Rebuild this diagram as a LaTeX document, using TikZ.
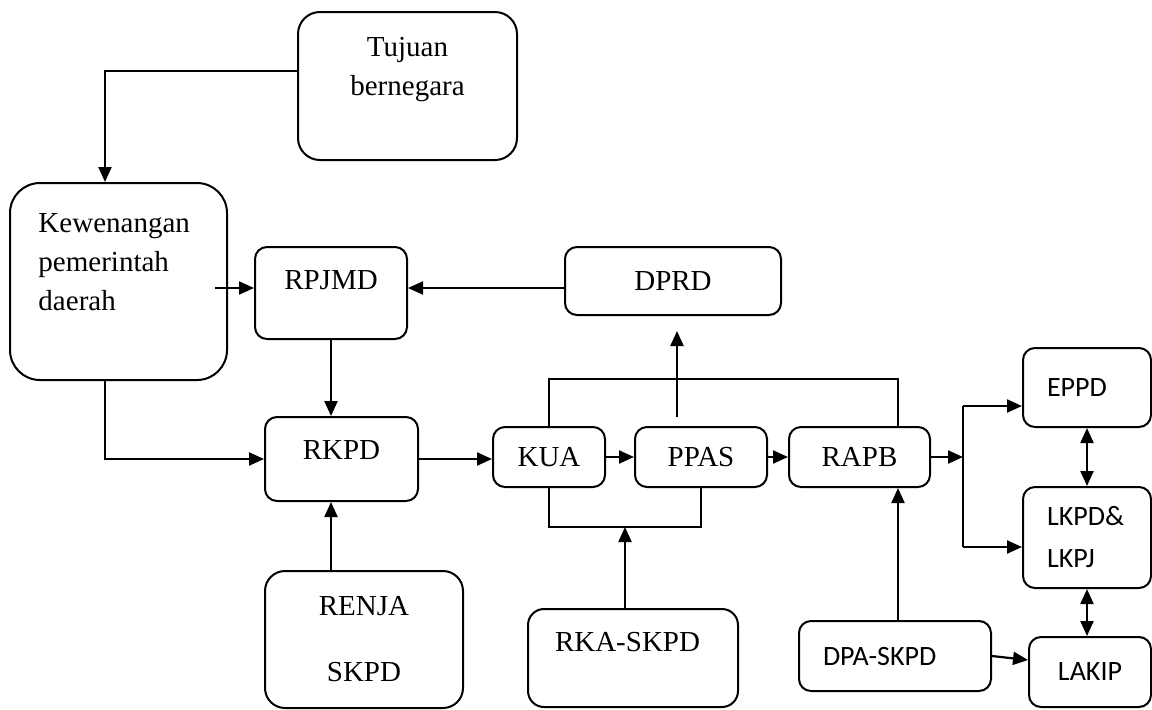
\documentclass[tikz,border=0pt]{standalone}
\usepackage{fontspec}
\setmainfont{Liberation Serif}
\newfontfamily\calfont{Carlito}
\usetikzlibrary{arrows.meta}

\begin{document}
\begin{tikzpicture}[x=0.5pt,y=-0.5pt,
    arr/.style={-{Triangle[length=7.5pt,width=6.5pt]},line width=1.1pt},
    dbl/.style={{Triangle[length=7.5pt,width=6.5pt]}-{Triangle[length=7.5pt,width=6.5pt]},line width=1.1pt}]

        \useasboundingbox (0,0) rectangle (1152,709);

        \begin{scope}[every node/.style={draw,line width=1pt,rounded corners=6pt,align=center,inner sep=0pt,
              font=\fontsize{14.5pt}{19.5pt}\selectfont}]
          \node[minimum width=109.5pt,minimum height=74pt,rounded corners=11pt] (tujuan) at (407.5,86) {Tujuan\\bernegara\\\mbox{}};
          \node[minimum width=108.5pt,minimum height=98.5pt,rounded corners=15pt,text width=80pt,align=left] (kew) at (118.5,281.5) {Kewenangan\\pemerintah\\daerah\\\mbox{}};
          \node[minimum width=76pt,minimum height=46pt,text height=10pt,text depth=13.4pt] (rpjmd) at (331,293) {RPJMD};
          \node[minimum width=108pt,minimum height=34pt] (dprd) at (673,281) {DPRD};
          \node[minimum width=76.5pt,minimum height=42pt,text height=10pt,text depth=9.9pt] (rkpd) at (341.5,459) {RKPD};
          \node[minimum width=56pt,minimum height=30pt] (kua) at (549,457) {KUA};
          \node[minimum width=66pt,minimum height=30pt] (ppas) at (701,457) {PPAS};
          \node[minimum width=70.5pt,minimum height=30pt] (rapb) at (859.5,457) {RAPB};
          \node[minimum width=99pt,minimum height=68.5pt,rounded corners=10pt] (renja) at (364,639.5) {RENJA\\[13.5pt]SKPD};
          \node[minimum width=105pt,minimum height=49pt,rounded corners=8pt,text height=10pt,text depth=16.9pt,
                text width=78pt,align=left] (rka) at (633,658) {RKA-SKPD};
        \end{scope}

        \begin{scope}[every node/.style={draw,line width=1pt,rounded corners=6pt,align=center,inner sep=0pt,
              font=\calfont\fontsize{14pt}{21pt}\selectfont}]
          \node[minimum width=96pt,minimum height=35pt,text width=72pt,align=left] (dpa) at (895,656) {DPA-SKPD};
          \node[minimum width=64pt,minimum height=39.5pt,text width=40pt,align=left] (eppd) at (1087,387.5) {EPPD};
          \node[minimum width=64pt,minimum height=50.5pt,text width=40pt,align=left] (lkpd) at (1087,537.5) {LKPD\&\\LKPJ};
          \node[minimum width=61pt,minimum height=35pt] (lakip) at (1090,672) {LAKIP};
        \end{scope}

        \coordinate (kewout) at (215,288);
        \coordinate (ppasup) at (677,417);
        \coordinate (fork) at (963,459);
        \coordinate (forktop) at (963,406);
        \coordinate (forkbot) at (963,547);

        \draw[arr] (tujuan.west |- 0,71) -| (kew.north -| 105,0);
        \draw[arr] (kewout) -- (kewout -| rpjmd.west);
        \draw[arr] ([yshift=-3.5pt]dprd.west) -- ([yshift=-3.5pt]dprd.west -| rpjmd.east);
        \draw[arr] (rpjmd.south) -- (rpjmd.south |- rkpd.north);
        \draw[arr] (kew.south -| 105,0) |- (rkpd.west);
        \draw[arr] (renja.north -| rpjmd.south) -- (rkpd.south -| rpjmd.south);
        \draw[arr] (rkpd.east) -- (rkpd.east -| kua.west);
        \draw[arr] (kua) -- (ppas);
        \draw[arr] (ppas) -- (rapb);
        \draw[arr] (rapb.east) -- (rapb.east -| fork);
        \draw[line width=1.1pt] (kua.north) |- (898,379) -- (rapb.north -| 898,0);
        \draw[arr,shorten >=7.5pt] (ppasup) -- (ppasup |- dprd.south);
        \draw[line width=1.1pt] (kua.south) |- (ppas.south |- 0,527) -- (ppas.south);
        \draw[arr] (rka.north -| 625,0) -- (625,527);
        \draw[arr] (dpa.north -| 898,0) -- (rapb.south -| 898,0);
        \draw[arr] (dpa.east) -- ([yshift=6pt]lakip.west);
        \draw[line width=1.1pt] (forktop) -- (forkbot);
        \draw[arr] (forktop) -- (forktop -| eppd.west);
        \draw[arr] (forkbot) -- (forkbot -| lkpd.west);
        \draw[dbl] (eppd.south) -- (lkpd.north);
        \draw[dbl] (lkpd.south) -- (lkpd.south |- lakip.north);

      \end{tikzpicture}
\end{document}
